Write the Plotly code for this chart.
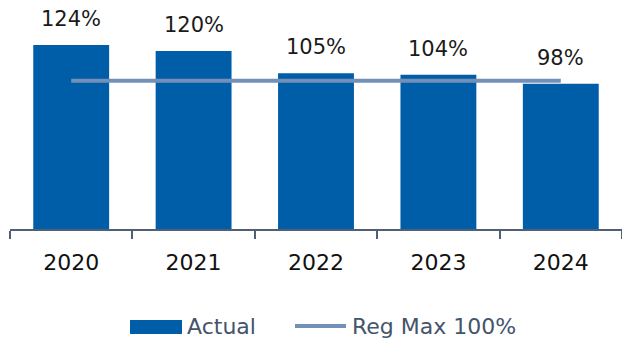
import plotly.graph_objects as go

# Ratio by year versus the regulatory ceiling
years = ["2020", "2021", "2022", "2023", "2024"]
actual = [124, 120, 105, 104, 98]
reg_max = [100, 100, 100, 100, 100]
labels = ["124%", "120%", "105%", "104%", "98%"]

BAR_COLOR = "#005DA8"
LINE_COLOR = "#7290B8"
SLATE = "#44546A"
FONT = "DejaVu Sans"

W, H = 622, 340
ML, MR, MT, MB = 10, 0, 0, 111
PW, PH = W - ML - MR, H - MT - MB


def px(x):
    return (x - ML) / PW


def py(y):
    return (H - MB - y) / PH


fig = go.Figure()
fig.add_trace(go.Bar(x=years, y=actual, marker=dict(color=BAR_COLOR, line=dict(width=0)),
                     name="Actual", hoverinfo="skip"))
fig.add_trace(go.Scatter(x=years, y=reg_max, mode="lines", name="Reg Max 100%",
                         line=dict(color=LINE_COLOR, width=4), hoverinfo="skip"))

# value labels above bars (category index positions)
for i, (v, t) in enumerate(zip(actual, labels)):
    fig.add_annotation(x=i, y=v, text=t, showarrow=False, yanchor="middle", yshift=26,
                       font=dict(family=FONT, size=21, color="#1a1a1a"))

# legend drawn with shapes and text
fig.add_shape(type="rect", xref="paper", yref="paper", x0=px(130), x1=px(182),
              y0=py(334), y1=py(320), fillcolor=BAR_COLOR, line=dict(width=0))
fig.add_annotation(xref="paper", yref="paper", x=px(185), y=py(326), text="Actual",
                   showarrow=False, xanchor="left", yanchor="middle",
                   font=dict(family=FONT, size=22, color=SLATE))
fig.add_shape(type="line", xref="paper", yref="paper", x0=px(295), x1=px(346),
              y0=py(326), y1=py(326), line=dict(color=LINE_COLOR, width=4))
fig.add_annotation(xref="paper", yref="paper", x=px(350), y=py(326), text="Reg Max 100%",
                   showarrow=False, xanchor="left", yanchor="middle",
                   font=dict(family=FONT, size=22, color=SLATE))

fig.update_layout(
    width=W, height=H,
    margin=dict(l=ML, r=MR, t=MT, b=MB),
    paper_bgcolor="white", plot_bgcolor="white",
    showlegend=False, bargap=0.38,
    xaxis=dict(type="category", range=[-0.5, len(years) - 0.5], showgrid=False,
               showline=True, linecolor="#4F5F75", linewidth=1.5,
               ticks="outside", ticklen=8, tickcolor="#4F5F75", tickwidth=1.5,
               tickson="boundaries", tickangle=0, ticklabelstandoff=13,
               tickfont=dict(family=FONT, size=22, color="#111111"),
               fixedrange=True),
    yaxis=dict(range=[0, 154.4], visible=False, fixedrange=True),
)

fig.write_html("out.html")
